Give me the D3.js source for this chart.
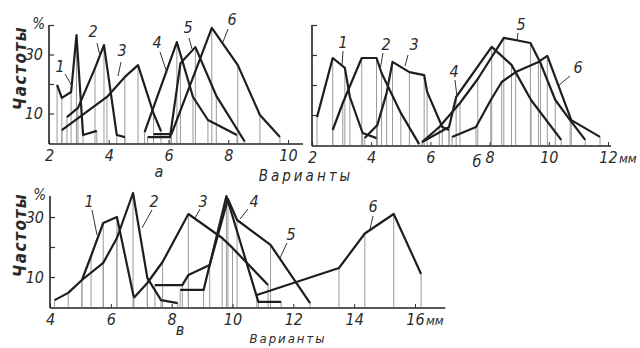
<!DOCTYPE html>
<html>
<head>
<meta charset="utf-8">
<script src="https://cdn.jsdelivr.net/npm/d3@7"></script>
<style>
  body { margin: 0; background: #fff; }
  svg { display: block; }
  text { font-family: "Liberation Sans Narrow", "DejaVu Sans Condensed", sans-serif; font-style: italic; fill: #2a2a2a; }
</style>
</head>
<body>
<svg id="chart" width="640" height="348"></svg>
<script>
/* data: [variant, frequency %] */
const a1 = [[2.27, 19.7], [2.43, 15.3], [2.74, 17.3], [2.92, 36.6], [3.14, 2.7], [3.6, 4.1]];
const a2 = [[2.6, 8.8], [2.97, 11.9], [3.54, 25.4], [3.84, 33.2], [4.27, 2.7], [4.54, 2]];
const a3 = [[2.43, 4.4], [3.94, 15.6], [4.54, 22.4], [4.98, 26.4], [5.5, 10], [5.75, 4]];
const a4 = [[5.2, 3.7], [6.28, 34.2], [6.82, 15.6], [7.32, 7.8], [8.29, 2.7]];
const a5 = [[5.3, 2], [6.05, 2], [6.4, 27], [6.9, 32.5], [7.6, 16], [8.55, 0.5]];
const a6 = [[5.5, 3], [6.1, 3], [7.45, 39], [8.32, 26.4], [9.06, 9.5], [9.73, 2]];

const b1 = [[2.17, 9.3], [2.7, 29], [3.11, 25.7], [3.28, 16], [3.71, 4], [4.18, 2.3]];
const b2 = [[2.7, 5], [3.04, 14], [3.68, 29], [4.18, 29], [4.35, 24], [5.0, 10.7], [5.62, 0.3]];
const b3 = [[3.78, 2.3], [4.21, 6.7], [4.52, 17.3], [4.72, 27.7], [5.29, 24.3], [5.79, 23.3], [5.89, 17.7], [6.4, 6], [6.63, 5]];
const b4 = [[5.72, 1], [6.63, 6], [6.87, 16], [8.07, 32.7], [8.74, 26.7], [9.4, 15], [10.42, 1.7]];
const b5 = [[5.72, 1], [6.3, 6], [7.0, 14], [7.6, 22], [8.48, 35.7], [9.38, 34], [9.72, 27.3], [10.22, 15], [10.72, 8.3], [11.23, 1.7]];
const b6 = [[6.73, 2.7], [7.54, 6], [8.04, 15], [8.41, 21], [8.88, 24.3], [9.65, 27.7], [9.95, 29.7], [10.76, 8.3], [11.73, 2.7]];

const c1 = [[5.05, 9], [5.35, 17], [5.75, 28], [6.2, 30], [6.75, 3.5]];
const c2 = [[4.15, 2.3], [4.6, 4.7], [5.05, 9], [5.75, 14.7], [6.2, 23], [6.73, 38], [7.2, 9.7], [7.65, 2.3], [8.2, 1.3]];
const c3 = [[6.75, 3], [7.2, 8], [7.7, 15], [8.55, 31], [9.66, 23], [10.0, 19.7], [11.17, 7.3]];
const c4 = [[8.28, 5.7], [9.05, 5.7], [9.8, 37], [10.85, 1.7], [11.6, 1.7]];
const c5 = [[7.45, 7.3], [8.35, 7.3], [8.55, 10.7], [9.25, 14], [9.85, 36], [10.15, 29], [11.25, 20.7], [12.55, 1.3]];
const c6 = [[10.8, 4], [13.5, 13], [14.35, 24.5], [15.3, 31], [16.2, 11]];

const aTicks = [2, 4, 6, 8, 10];
const bTicks = [2, 4, 6, 8, 10, 12];
const cTicks = [4, 6, 8, 10, 12, 14, 16];
const yTicks = [10, 20, 30, 40];
const yLabels = [10, 30];
const seriesNames = ["1", "2", "3", "4", "5", "6"];

const svg = d3.select("#chart");

const panels = [
  {
    series: [a1, a2, a3, a4, a5, a6],
    x: d3.scaleLinear().domain([2, 10]).range([49, 288]),
    y: d3.scaleLinear().domain([0, 40]).range([143, 25]),
    ticks: aTicks, axisEnd: 10.5, showY: true, yTop: 40, titleY: 68,
    // name label positions and pointer lines [lx, ly, x1, y1, x2, y2]
    names: [[60, 72, 65, 74, 72, 86], [93, 37, 97, 43, 100, 56], [122, 56, 121, 62, 118, 76],
            [157, 48, 160, 52, 167, 73], [188, 33, 189, 38, 192, 49], [232, 25, 228, 29, 223, 42]]
  },
  {
    series: [b1, b2, b3, b4, b5, b6],
    x: d3.scaleLinear().domain([2, 12]).range([312, 608]),
    y: d3.scaleLinear().domain([0, 40]).range([145, 25]),
    ticks: bTicks, axisEnd: 12.1, showY: false, yTop: 40, unit: true,
    names: [[343, 48, 343, 51, 342, 66], [386, 50, 383, 53, 380, 70], [414, 50, 408, 55, 405, 66],
            [454, 77, 455, 80, 457, 97], [521, 30, 518, 33, 517, 41], [578, 73, 570, 76, 558, 86]]
  },
  {
    series: [c1, c2, c3, c4, c5, c6],
    x: d3.scaleLinear().domain([4, 16]).range([50, 415]),
    y: d3.scaleLinear().domain([0, 40]).range([307, 187]),
    ticks: cTicks, axisEnd: 17, showY: true, yTop: 37, unit: true, titleY: 235,
    names: [[89, 207, 92, 210, 97, 235], [154, 207, 152, 210, 142, 228], [203, 207, 200, 209, 195, 218],
            [254, 207, 248, 209, 240, 219], [291, 240, 287, 243, 280, 258], [373, 212, 373, 216, 370, 229]]
  }
];

const line = d3.line();

panels.forEach(p => {
  const g = svg.append("g");
  const base = p.y(0);

  // drop lines from every vertex
  p.series.forEach(s => {
    g.selectAll(null).data(s).enter().append("line")
      .attr("x1", d => p.x(d[0])).attr("x2", d => p.x(d[0]))
      .attr("y1", d => p.y(d[1])).attr("y2", base)
      .attr("stroke", "#9a9a9a").attr("stroke-width", 1);
  });

  // x axis
  g.append("line")
    .attr("x1", p.x(p.x.domain()[0])).attr("x2", p.x(p.axisEnd))
    .attr("y1", base + 1).attr("y2", base + 1)
    .attr("stroke", "#222").attr("stroke-width", 1.6);
  const xa = g.append("g")
    .attr("transform", "translate(0," + (base + 1) + ")")
    .call(d3.axisBottom(p.x).tickValues(p.ticks).tickSize(-4).tickPadding(6));
  xa.select(".domain").remove();
  xa.selectAll("line").attr("stroke", "#333");
  xa.selectAll("text").attr("font-size", 16).style("fill", "#2a2a2a")
    .style("font-family", "'Liberation Sans Narrow', 'DejaVu Sans Condensed', sans-serif")
    .style("font-style", "italic");
  if (p.unit) {
    g.append("text")
      .attr("x", p.x(p.ticks[p.ticks.length - 1]) + 11).attr("y", base + 18)
      .attr("font-size", 13).text("мм");
  }

  // y axis
  g.append("line")
    .attr("x1", p.x.range()[0]).attr("x2", p.x.range()[0])
    .attr("y1", base + 1).attr("y2", p.y(p.yTop))
    .attr("stroke", "#222").attr("stroke-width", 1.6);
  const ya = g.append("g")
    .attr("transform", "translate(" + p.x.range()[0] + ",0)")
    .call(d3.axisLeft(p.y).tickValues(yTicks.filter(t => t <= p.yTop)).tickSize(-5).tickPadding(6)
      .tickFormat(d => (p.showY && yLabels.includes(d)) ? d : ""));
  ya.select(".domain").remove();
  ya.selectAll("line").attr("stroke", "#333").attr("stroke-width", 1.2);
  ya.selectAll("text").attr("font-size", 16).style("fill", "#2a2a2a")
    .style("font-family", "'Liberation Sans Narrow', 'DejaVu Sans Condensed', sans-serif")
    .style("font-style", "italic");
  if (p.showY) {
    g.append("text").attr("x", p.x.range()[0] - 4).attr("y", p.y(p.yTop) + 4)
      .attr("text-anchor", "end").attr("font-size", 15).text("%");
    g.append("text")
      .attr("transform", "translate(26," + p.titleY + ") rotate(-90)")
      .attr("text-anchor", "middle").attr("font-size", 17).attr("letter-spacing", 1.5)
      .attr("font-weight", "bold").text("Частоты");
  }

  // polygons
  p.series.forEach(s => {
    g.append("path")
      .attr("d", line(s.map(d => [p.x(d[0]), p.y(d[1])])))
      .attr("fill", "none").attr("stroke", "#1e1e1e")
      .attr("stroke-width", 2.2).attr("stroke-linejoin", "round");
  });

  // series names with pointer strokes
  p.names.forEach((n, i) => {
    g.append("line").attr("x1", n[2]).attr("y1", n[3]).attr("x2", n[4]).attr("y2", n[5])
      .attr("stroke", "#333").attr("stroke-width", 1);
    g.append("text").attr("x", n[0]).attr("y", n[1]).attr("text-anchor", "middle")
      .attr("font-size", 16).text(seriesNames[i]);
  });
});

// panel letters and axis titles
svg.append("text").attr("x", 159).attr("y", 177).attr("text-anchor", "middle").attr("font-size", 16).text("а");
svg.append("text").attr("x", 477).attr("y", 167).attr("text-anchor", "middle").attr("font-size", 16).text("б");
svg.append("text").attr("x", 180).attr("y", 335).attr("text-anchor", "middle").attr("font-size", 16).text("в");
svg.append("text").attr("x", 306).attr("y", 181).attr("text-anchor", "middle")
  .attr("font-size", 15).attr("letter-spacing", 3).text("Варианты");
svg.append("text").attr("x", 288).attr("y", 343).attr("text-anchor", "middle")
  .attr("font-size", 13).attr("letter-spacing", 2).text("Варианты");
</script>
</body>
</html>
